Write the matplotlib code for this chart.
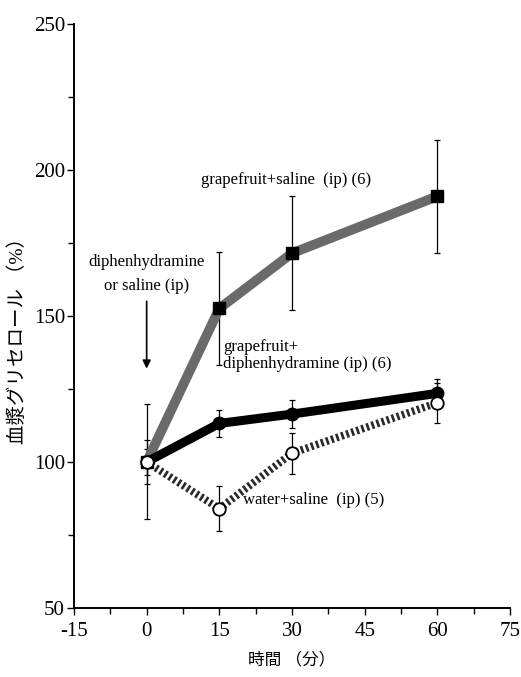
import numpy as np
import matplotlib.pyplot as plt

plt.rcParams['font.family'] = ['Liberation Serif', 'Noto Sans CJK JP']
plt.rcParams['axes.unicode_minus'] = False

# time points (min)
minutes = [0, 15, 30, 60]

# plasma glycerol (% of baseline), mean and SE
gf_saline = [100, 152.6, 171.5, 191.0]
gf_saline_se = [19.7, 19.4, 19.5, 19.4]

gf_diphen = [100, 113.2, 116.4, 123.5]
gf_diphen_se = [7.5, 4.5, 4.8, 4.8]

water_saline = [100, 84.0, 103.0, 120.3]
water_saline_se = [4.6, 7.6, 7.0, 6.8]

x_ticks = [-15, 0, 15, 30, 45, 60, 75]
y_ticks = [50, 100, 150, 200, 250]

fig = plt.figure(figsize=(5.21, 6.77), dpi=100)
ax = fig.add_axes([0.142, 0.102, 0.837, 0.8625])

eb = dict(ecolor='black', elinewidth=0.9, capsize=2.5, capthick=0.9)

# water + saline: dotted line, open circles
ax.errorbar(minutes, water_saline, yerr=water_saline_se, fmt='none', zorder=2, **eb)
ax.plot(minutes, water_saline, color='#2a2a2a', lw=5.5, ls=(0, (0.35, 0.35)),
        solid_capstyle='butt', zorder=3)

# grapefruit + saline: thick gray line, black squares
ax.errorbar(minutes, gf_saline, yerr=gf_saline_se, fmt='none', zorder=2, **eb)
ax.plot(minutes, gf_saline, color='#6a6a6a', lw=7, zorder=4)
ax.plot(minutes, gf_saline, ls='none', marker='s', ms=8.5, color='black', zorder=5)

# grapefruit + diphenhydramine: thick black line, filled circles
ax.errorbar(minutes, gf_diphen, yerr=gf_diphen_se, fmt='none', zorder=2, **eb)
ax.plot(minutes, gf_diphen, color='black', lw=6.5, zorder=4)
ax.plot(minutes, gf_diphen, ls='none', marker='o', ms=9, color='black', zorder=5)

ax.plot(minutes, water_saline, ls='none', marker='o', ms=9, mfc='white',
        mec='black', mew=1.3, zorder=6)

ax.set_xlim(-15, 75)
ax.set_ylim(50, 250)
ax.set_xticks(x_ticks)
ax.set_yticks(y_ticks)
ax.set_xticks(np.arange(-15, 76, 7.5), minor=True)
ax.set_yticks(np.arange(50, 251, 25), minor=True)
ax.tick_params(which='both', direction='out', width=1, labelsize=15)
ax.tick_params(which='major', length=5)
ax.tick_params(which='minor', length=4)
ax.tick_params(axis='x', which='major', pad=5)
ax.tick_params(axis='y', which='major', pad=1.5)
ax.spines['top'].set_visible(False)
ax.spines['right'].set_visible(False)
ax.spines['left'].set_linewidth(1.4)
ax.spines['bottom'].set_linewidth(1.4)

ax.set_xlabel('時間 （分）', fontsize=12, labelpad=8)
ax.set_ylabel('血漿グリセロール （%）', fontsize=14)
ax.yaxis.set_label_coords(-0.108, 0.466)

fs = 12
ax.text(11.2, 196.5, 'grapefruit+saline  (ip) (6)', fontsize=fs, va='center')
ax.text(0, 164.4, 'diphenhydramine\nor saline (ip)', fontsize=fs, ha='center',
        va='center', linespacing=1.6)
ax.annotate('', xy=(0, 131), xytext=(0, 156),
            arrowprops=dict(arrowstyle='-|>', color='black', lw=1.2,
                            mutation_scale=12))
ax.text(15.8, 136.6, 'grapefruit+\ndiphenhydramine (ip) (6)', fontsize=fs,
        va='center', linespacing=1.1)
ax.text(19.8, 87, 'water+saline  (ip) (5)', fontsize=fs, va='center')

fig.savefig('out.png', dpi=100)
